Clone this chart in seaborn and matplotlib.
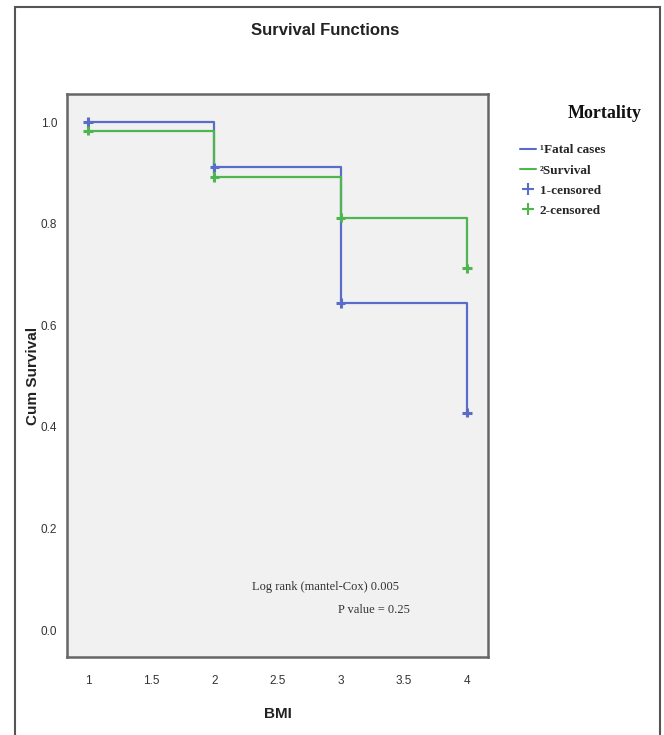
import pandas as pd
import matplotlib.pyplot as plt
import seaborn as sns
from matplotlib.lines import Line2D
from matplotlib.patches import Rectangle

# Kaplan-Meier style step values
bmi = [1, 2, 3, 4]
fatal_surv = [1.0, 0.911, 0.644, 0.428]
alive_surv = [0.983, 0.892, 0.812, 0.712]
group_names = ['Fatal cases', 'Survival']
y_ticks = [0.0, 0.2, 0.4, 0.6, 0.8, 1.0]
x_ticks = [1, 1.5, 2, 2.5, 3, 3.5, 4]

df = pd.DataFrame({
    'BMI': bmi * 2,
    'Cum Survival': fatal_surv + alive_surv,
    'Mortality': [group_names[0]] * len(bmi) + [group_names[1]] * len(bmi),
})

palette = {'Fatal cases': '#5a6cc9', 'Survival': '#4fb64f'}

sns.set_style('white')
plt.rcParams['font.family'] = ['Liberation Sans', 'DejaVu Sans']

fig = plt.figure(figsize=(6.64, 7.35), dpi=100)
ax = fig.add_axes([0.101, 0.106, 0.634, 0.766])
ax.set_facecolor('#f1f1f1')

sns.lineplot(data=df, x='BMI', y='Cum Survival', hue='Mortality', palette=palette,
             drawstyle='steps-post', linewidth=1.6, ax=ax, legend=False)
sns.scatterplot(data=df, x='BMI', y='Cum Survival', hue='Mortality', palette=palette,
                marker='+', s=45, linewidth=2.2, ax=ax, legend=False, zorder=5)

ax.set_xlim(0.834, 4.166)
ax.set_ylim(-0.053, 1.055)
ax.set_xticks(x_ticks)
ax.set_xticklabels(['1', '1.5', '2', '2.5', '3', '3.5', '4'])
ax.set_yticks(y_ticks)
ax.set_yticklabels(['0.0', '0.2', '0.4', '0.6', '0.8', '1.0'])
ax.tick_params(axis='both', direction='out', length=5, width=1.2, color='#555555',
               labelsize=8.5, labelcolor='#333333')
ax.tick_params(axis='x', pad=8)
ax.tick_params(axis='y', pad=2)
for side in ['left', 'right', 'top', 'bottom']:
    ax.spines[side].set_color('#666666')
    ax.spines[side].set_linewidth(1.8)

ax.set_xlabel('BMI', fontsize=11, fontweight='bold', color='#222222', labelpad=14)
ax.set_ylabel('Cum Survival', fontsize=11, fontweight='bold', color='#222222')
ax.yaxis.set_label_coords(-0.065, 0.5)

fig.text(0.49, 0.958, 'Survival Functions', ha='center', va='center', fontsize=12,
         fontweight='bold', color='#222222')

ax.text(2.3, 0.08, 'Log rank (mantel-Cox) 0.005', fontsize=9,
        family=['Liberation Serif', 'DejaVu Serif'], color='#333333')
ax.text(2.98, 0.033, 'P value = 0.25', fontsize=9,
        family=['Liberation Serif', 'DejaVu Serif'], color='#333333')

handles = [
    Line2D([], [], color=palette['Fatal cases'], lw=1.5),
    Line2D([], [], color=palette['Survival'], lw=1.5),
    Line2D([], [], color=palette['Fatal cases'], lw=0, marker='+', markersize=9, mew=1.5),
    Line2D([], [], color=palette['Survival'], lw=0, marker='+', markersize=9, mew=1.5),
]
labels = ['\u00b9Fatal cases', '\u00b2Survival', '1-censored', '2-censored']
leg = fig.legend(handles, labels, loc='upper left', bbox_to_anchor=(0.765, 0.82),
                 frameon=False, handlelength=1.2, handletextpad=0.3, labelspacing=0.6,
                 prop={'family': ['Liberation Serif', 'DejaVu Serif'], 'size': 9.5,
                       'weight': 'bold'})
fig.text(0.91, 0.846, 'Mortality', ha='center', va='center', fontsize=13,
         fontweight='bold', family=['Liberation Serif', 'DejaVu Serif'], color='#111111')

# outer frame of the exported figure
fig.patches.append(Rectangle((0.023, -0.01), 0.971, 1.0, transform=fig.transFigure,
                             fill=False, edgecolor='#555555', linewidth=1.5))

fig.savefig('out.png', dpi=100)
